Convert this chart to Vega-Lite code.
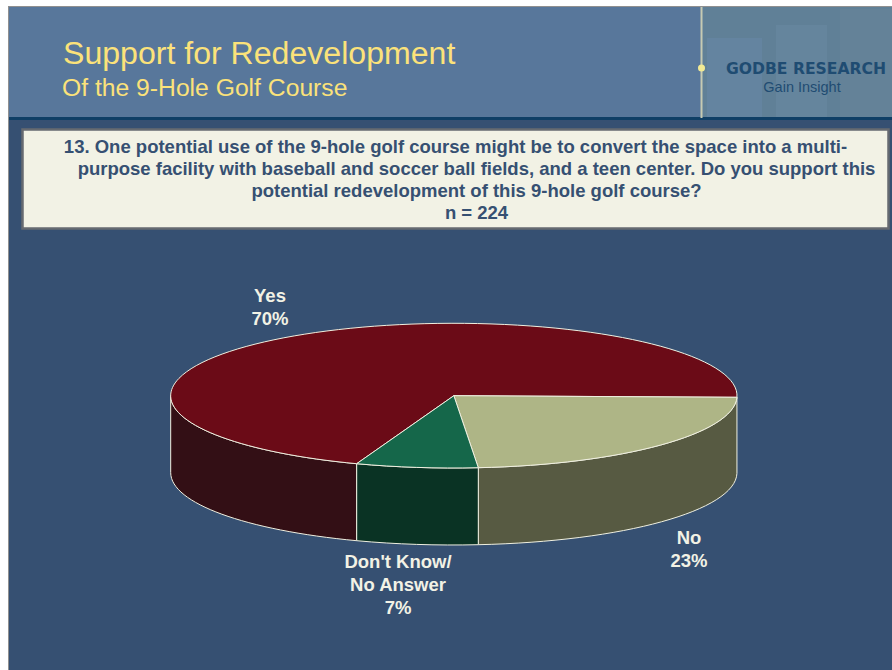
{
"$schema":"https://vega.github.io/schema/vega-lite/v6.json",
"width":892,"height":670,"padding":0,"autosize":{"type":"none"},"background":"#ffffff",
"config":{"view":{"stroke":null}},
"datasets":{"slices":[
{"answer":"Yes","share":70,"label":"Yes\n70%"},
{"answer":"No","share":23,"label":"No\n23%"},
{"answer":"DK","share":7,"label":"Don't Know/\nNo Answer\n7%"}],
"block":[{"part":"block"}],
"q1":[{"line":"13. One potential use of the 9-hole golf course might be to convert the space into a multi-"}],
"q2":[{"line":"purpose facility with baseball and soccer ball fields, and a teen center. Do you support this\npotential redevelopment of this 9-hole golf course?\nn = 224"}]},
"resolve":{"scale":{"shape":"independent","fill":"independent"}},
"layer":[
{"data":{"name":"block"},"mark":{"type":"rect","fill":"#909090"},"encoding":{"x":{"datum":8,"type":"quantitative","scale":{"domain":[0,892],"range":[0,892],"nice":false,"zero":false},"axis":null},"x2":{"datum":892},"y":{"datum":6,"type":"quantitative","scale":{"domain":[0,670],"range":[0,670],"nice":false,"zero":false},"axis":null},"y2":{"datum":670}}},
{"data":{"name":"block"},"mark":{"type":"rect","fill":"#365072"},"encoding":{"x":{"datum":9,"type":"quantitative","scale":{"domain":[0,892],"range":[0,892],"nice":false,"zero":false},"axis":null},"x2":{"datum":892},"y":{"datum":7,"type":"quantitative","scale":{"domain":[0,670],"range":[0,670],"nice":false,"zero":false},"axis":null},"y2":{"datum":670}}},
{"data":{"name":"block"},"mark":{"type":"rect","fill":"#58779b"},"encoding":{"x":{"datum":9,"type":"quantitative","scale":{"domain":[0,892],"range":[0,892],"nice":false,"zero":false},"axis":null},"x2":{"datum":892},"y":{"datum":7,"type":"quantitative","scale":{"domain":[0,670],"range":[0,670],"nice":false,"zero":false},"axis":null},"y2":{"datum":117}}},
{"data":{"name":"block"},"mark":{"type":"rect","fill":"#608097"},"encoding":{"x":{"datum":702,"type":"quantitative","scale":{"domain":[0,892],"range":[0,892],"nice":false,"zero":false},"axis":null},"x2":{"datum":892},"y":{"datum":7,"type":"quantitative","scale":{"domain":[0,670],"range":[0,670],"nice":false,"zero":false},"axis":null},"y2":{"datum":117}}},
{"data":{"name":"block"},"mark":{"type":"rect","fill":"#6484a0"},"encoding":{"x":{"datum":707,"type":"quantitative","scale":{"domain":[0,892],"range":[0,892],"nice":false,"zero":false},"axis":null},"x2":{"datum":762},"y":{"datum":38,"type":"quantitative","scale":{"domain":[0,670],"range":[0,670],"nice":false,"zero":false},"axis":null},"y2":{"datum":117}}},
{"data":{"name":"block"},"mark":{"type":"rect","fill":"#65859d"},"encoding":{"x":{"datum":776,"type":"quantitative","scale":{"domain":[0,892],"range":[0,892],"nice":false,"zero":false},"axis":null},"x2":{"datum":827},"y":{"datum":25,"type":"quantitative","scale":{"domain":[0,670],"range":[0,670],"nice":false,"zero":false},"axis":null},"y2":{"datum":117}}},
{"data":{"name":"block"},"mark":{"type":"rect","fill":"#648298"},"encoding":{"x":{"datum":840,"type":"quantitative","scale":{"domain":[0,892],"range":[0,892],"nice":false,"zero":false},"axis":null},"x2":{"datum":892},"y":{"datum":9,"type":"quantitative","scale":{"domain":[0,670],"range":[0,670],"nice":false,"zero":false},"axis":null},"y2":{"datum":117}}},
{"data":{"name":"block"},"mark":{"type":"rect","fill":"#0f3f66"},"encoding":{"x":{"datum":9,"type":"quantitative","scale":{"domain":[0,892],"range":[0,892],"nice":false,"zero":false},"axis":null},"x2":{"datum":892},"y":{"datum":117,"type":"quantitative","scale":{"domain":[0,670],"range":[0,670],"nice":false,"zero":false},"axis":null},"y2":{"datum":120}}},
{"data":{"name":"block"},"mark":{"type":"rect","fill":"#c6cab2"},"encoding":{"x":{"datum":700.5,"type":"quantitative","scale":{"domain":[0,892],"range":[0,892],"nice":false,"zero":false},"axis":null},"x2":{"datum":702.5},"y":{"datum":7,"type":"quantitative","scale":{"domain":[0,670],"range":[0,670],"nice":false,"zero":false},"axis":null},"y2":{"datum":118}}},
{"data":{"name":"block"},"mark":{"type":"point","filled":true,"opacity":1,"fill":"#f2ea94","size":50,"shape":"circle"},"encoding":{"x":{"datum":701.5,"type":"quantitative","scale":{"domain":[0,892],"range":[0,892],"nice":false,"zero":false},"axis":null},"y":{"datum":68,"type":"quantitative","scale":{"domain":[0,670],"range":[0,670],"nice":false,"zero":false},"axis":null}}},
{"data":{"name":"block"},"mark":{"type":"rect","fill":"#f2f2e5","stroke":"#666a70","strokeWidth":2.5},"encoding":{"x":{"datum":22.5,"type":"quantitative","scale":{"domain":[0,892],"range":[0,892],"nice":false,"zero":false},"axis":null},"x2":{"datum":888.5},"y":{"datum":129.5,"type":"quantitative","scale":{"domain":[0,670],"range":[0,670],"nice":false,"zero":false},"axis":null},"y2":{"datum":228.5}}},
{"data":{"values":[{"t":"Support for Redevelopment"}]},"mark":{"type":"text","align":"left","baseline":"alphabetic","font":"Liberation Sans","fontSize":32.1,"fill":"#fbe27a"},"encoding":{"text":{"field":"t"},"x":{"datum":63,"type":"quantitative","scale":{"domain":[0,892],"range":[0,892],"nice":false,"zero":false},"axis":null},"y":{"datum":64,"type":"quantitative","scale":{"domain":[0,670],"range":[0,670],"nice":false,"zero":false},"axis":null}}},
{"data":{"values":[{"t":"Of the 9-Hole Golf Course"}]},"mark":{"type":"text","align":"left","baseline":"alphabetic","font":"Liberation Sans","fontSize":24.7,"fill":"#fbe27a"},"encoding":{"text":{"field":"t"},"x":{"datum":62,"type":"quantitative","scale":{"domain":[0,892],"range":[0,892],"nice":false,"zero":false},"axis":null},"y":{"datum":96,"type":"quantitative","scale":{"domain":[0,670],"range":[0,670],"nice":false,"zero":false},"axis":null}}},
{"data":{"values":[{"t":"GODBE RESEARCH"}]},"mark":{"type":"text","align":"center","baseline":"alphabetic","font":"DejaVu Sans","fontWeight":"bold","fontSize":15.6,"fill":"#1f4c72"},"encoding":{"text":{"field":"t"},"x":{"datum":806,"type":"quantitative","scale":{"domain":[0,892],"range":[0,892],"nice":false,"zero":false},"axis":null},"y":{"datum":74,"type":"quantitative","scale":{"domain":[0,670],"range":[0,670],"nice":false,"zero":false},"axis":null}}},
{"data":{"values":[{"t":"Gain Insight"}]},"mark":{"type":"text","align":"center","baseline":"alphabetic","font":"Liberation Sans","fontSize":14.5,"fill":"#1f4c72"},"encoding":{"text":{"field":"t"},"x":{"datum":802,"type":"quantitative","scale":{"domain":[0,892],"range":[0,892],"nice":false,"zero":false},"axis":null},"y":{"datum":92,"type":"quantitative","scale":{"domain":[0,670],"range":[0,670],"nice":false,"zero":false},"axis":null}}},
{"data":{"name":"q1"},"mark":{"type":"text","align":"center","baseline":"alphabetic","font":"Liberation Sans","fontWeight":"bold","fontSize":18.5,"fill":"#365072"},"encoding":{"text":{"field":"line"},"x":{"datum":455.5,"type":"quantitative","scale":{"domain":[0,892],"range":[0,892],"nice":false,"zero":false},"axis":null},"y":{"datum":153,"type":"quantitative","scale":{"domain":[0,670],"range":[0,670],"nice":false,"zero":false},"axis":null}}},
{"data":{"name":"q2"},"mark":{"type":"text","align":"center","baseline":"alphabetic","font":"Liberation Sans","fontWeight":"bold","fontSize":18.5,"lineBreak":"\n","lineHeight":22,"fill":"#365072"},"encoding":{"text":{"field":"line"},"x":{"datum":476.5,"type":"quantitative","scale":{"domain":[0,892],"range":[0,892],"nice":false,"zero":false},"axis":null},"y":{"datum":175,"type":"quantitative","scale":{"domain":[0,670],"range":[0,670],"nice":false,"zero":false},"axis":null}}},
{"data":{"name":"slices"},"mark":{"type":"point","filled":true,"opacity":1,"size":4,"stroke":"#f0f0e0","strokeWidth":1},"encoding":{"tooltip":{"field":"share","type":"quantitative"},"x":{"datum":453.85,"type":"quantitative","scale":{"domain":[0,892],"range":[0,892],"nice":false,"zero":false},"axis":null},"y":{"datum":395.7,"type":"quantitative","scale":{"domain":[0,670],"range":[0,670],"nice":false,"zero":false},"axis":null},
"shape":{"field":"answer","type":"nominal","legend":null,"scale":{"domain":["Yes","No","DK"],"range":[
"M-283.15 0A283.15 72.4 0 0 0 -97.15 68L-97.15 145A283.15 72.4 0 0 1 -283.15 77Z",
"M24.45 72A283.15 72.4 0 0 0 283.1 1.6L283.1 77.6A283.15 72.4 0 0 1 24.45 149Z",
"M-97.15 68A283.15 72.4 0 0 0 24.45 72L24.45 149A283.15 72.4 0 0 1 -97.15 145Z"]}},
"fill":{"field":"answer","type":"nominal","legend":null,"scale":{"domain":["Yes","No","DK"],"range":["#330f15","#575a42","#0a3324"]}}}},
{"data":{"name":"slices"},"mark":{"type":"point","filled":true,"opacity":1,"size":4,"stroke":"#f0f0e0","strokeWidth":1},"encoding":{"tooltip":{"field":"share","type":"quantitative"},"x":{"datum":453.85,"type":"quantitative","scale":{"domain":[0,892],"range":[0,892],"nice":false,"zero":false},"axis":null},"y":{"datum":395.7,"type":"quantitative","scale":{"domain":[0,670],"range":[0,670],"nice":false,"zero":false},"axis":null},
"shape":{"field":"answer","type":"nominal","legend":null,"scale":{"domain":["Yes","No","DK"],"range":[
"M0 0L283.1 1.6A283.15 72.4 0 1 0 -97.15 68Z",
"M0 0L24.45 72A283.15 72.4 0 0 0 283.1 1.6Z",
"M0 0L-97.15 68A283.15 72.4 0 0 0 24.45 72Z"]}},
"fill":{"field":"answer","type":"nominal","legend":null,"scale":{"domain":["Yes","No","DK"],"range":["#6b0b17","#aeb586","#15674a"]}}}},
{"data":{"name":"slices"},"transform":[{"filter":"datum.answer==='Yes'"}],"mark":{"type":"text","align":"center","baseline":"alphabetic","font":"Liberation Sans","fontWeight":"bold","fontSize":18.5,"lineBreak":"\n","lineHeight":23,"fill":"#f2f2e5"},"encoding":{"text":{"field":"label"},"x":{"datum":270,"type":"quantitative","scale":{"domain":[0,892],"range":[0,892],"nice":false,"zero":false},"axis":null},"y":{"datum":302,"type":"quantitative","scale":{"domain":[0,670],"range":[0,670],"nice":false,"zero":false},"axis":null}}},
{"data":{"name":"slices"},"transform":[{"filter":"datum.answer==='No'"}],"mark":{"type":"text","align":"center","baseline":"alphabetic","font":"Liberation Sans","fontWeight":"bold","fontSize":18.5,"lineBreak":"\n","lineHeight":23,"fill":"#f2f2e5"},"encoding":{"text":{"field":"label"},"x":{"datum":689,"type":"quantitative","scale":{"domain":[0,892],"range":[0,892],"nice":false,"zero":false},"axis":null},"y":{"datum":544,"type":"quantitative","scale":{"domain":[0,670],"range":[0,670],"nice":false,"zero":false},"axis":null}}},
{"data":{"name":"slices"},"transform":[{"filter":"datum.answer==='DK'"}],"mark":{"type":"text","align":"center","baseline":"alphabetic","font":"Liberation Sans","fontWeight":"bold","fontSize":18.5,"lineBreak":"\n","lineHeight":23,"fill":"#f2f2e5"},"encoding":{"text":{"field":"label"},"x":{"datum":398,"type":"quantitative","scale":{"domain":[0,892],"range":[0,892],"nice":false,"zero":false},"axis":null},"y":{"datum":568,"type":"quantitative","scale":{"domain":[0,670],"range":[0,670],"nice":false,"zero":false},"axis":null}}}
]}
